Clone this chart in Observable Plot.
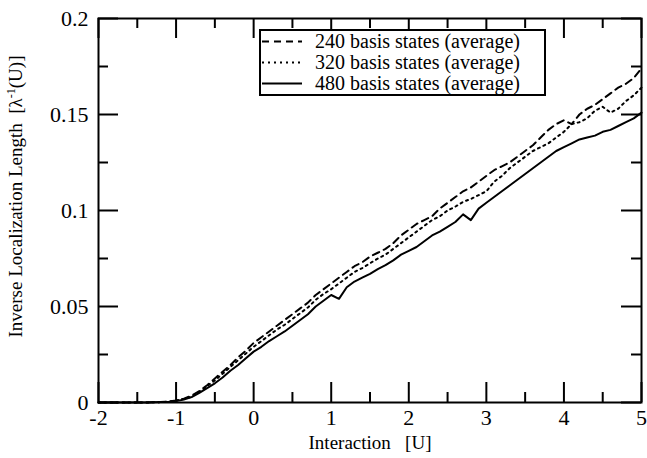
<!DOCTYPE html>
<html>
<head>
<meta charset="utf-8">
<script src="https://cdn.jsdelivr.net/npm/d3@7"></script>
<script src="https://cdn.jsdelivr.net/npm/@observablehq/plot@0.6"></script>
<style>
  html, body { margin: 0; padding: 0; background: #fff; }
  #wrap { position: relative; width: 647px; height: 458px; }
  #legend {
    position: absolute; left: 259px; top: 29px; width: 287px; height: 67px;
    box-sizing: border-box; border: 2px solid #000; background: #fff; overflow: hidden;
    font-family: "Liberation Serif", "Times New Roman", serif; font-size: 20px; color: #000;
  }
  .row { position: absolute; left: 0; width: 280px; height: 21px; white-space: nowrap; }
  .row svg { position: absolute; left: 1px; top: 0; }
  .row span { position: absolute; left: 54px; top: 0px; line-height: 21px; }
</style>
</head>
<body>
<div id="wrap">
  <div id="chart"></div>
  <div id="legend"></div>
</div>
<script>
// Interaction U (x values)
const U = [-2.0,-1.9,-1.8,-1.7,-1.6,-1.5,-1.4,-1.3,-1.2,
  -1.1,-1.0,-0.9,-0.8,-0.7,-0.6,-0.5,-0.4,-0.3,-0.2,-0.1,
  0.0,0.1,0.2,0.3,0.4,0.5,0.6,0.7,0.8,0.9,
  1.0,1.1,1.2,1.3,1.4,1.5,1.6,1.7,1.8,1.9,
  2.0,2.1,2.2,2.3,2.4,2.5,2.6,2.7,2.8,2.9,
  3.0,3.1,3.2,3.3,3.4,3.5,3.6,3.7,3.8,3.9,
  4.0,4.1,4.2,4.3,4.4,4.5,4.6,4.7,4.8,4.9,
  5.0];

// 240 basis states (average)
const avg240 = [0,0,0,0,0,0,0,0.0001,0.0002,
  0.0005,0.001,0.002,0.0035,0.006,0.009,0.0125,0.016,0.0195,0.0235,0.027,
  0.031,0.034,0.037,0.040,0.043,0.046,0.049,0.052,0.056,0.059,
  0.062,0.065,0.068,0.071,0.073,0.076,0.078,0.080,0.083,0.087,
  0.090,0.093,0.095,0.097,0.101,0.104,0.107,0.110,0.112,0.115,
  0.118,0.121,0.123,0.125,0.128,0.131,0.134,0.138,0.142,0.145,
  0.147,0.145,0.150,0.153,0.155,0.158,0.161,0.164,0.166,0.169,
  0.174];

// 320 basis states (average)
const avg320 = [0,0,0,0,0,0,0,0.0001,0.0002,
  0.0004,0.001,0.0018,0.003,0.0055,0.0085,0.0115,0.015,0.0185,0.022,0.0255,
  0.029,0.032,0.035,0.038,0.0405,0.0435,0.0465,0.0495,0.0535,0.0565,
  0.059,0.062,0.065,0.068,0.070,0.0725,0.075,0.077,0.080,0.083,
  0.086,0.089,0.092,0.095,0.097,0.100,0.102,0.1045,0.106,0.108,
  0.110,0.115,0.118,0.122,0.125,0.128,0.131,0.133,0.135,0.138,
  0.141,0.145,0.146,0.148,0.152,0.154,0.151,0.153,0.157,0.160,
  0.164];

// 480 basis states (average)
const avg480 = [0,0,0,0,0,0,0,0.0001,0.0002,
  0.0003,0.0008,0.0015,0.0028,0.005,0.0075,0.010,0.013,0.0165,0.0195,0.023,
  0.0265,0.029,0.032,0.0345,0.037,0.040,0.043,0.046,0.050,0.053,
  0.056,0.054,0.060,0.063,0.065,0.067,0.0695,0.0715,0.074,0.077,
  0.079,0.081,0.084,0.087,0.089,0.0915,0.094,0.098,0.095,0.101,
  0.104,0.107,0.110,0.113,0.116,0.119,0.122,0.125,0.128,0.131,
  0.133,0.135,0.137,0.138,0.139,0.141,0.142,0.144,0.146,0.148,
  0.151];

const seriesNames = ["240 basis states (average)", "320 basis states (average)", "480 basis states (average)"];
const seriesDash = ["7,5", "2,4", null];

const xMajor = [-2, -1, 0, 1, 2, 3, 4, 5];
const xMinor = [-1.5, -0.5, 0.5, 1.5, 2.5, 3.5, 4.5];
const yMajor = [0, 0.05, 0.1, 0.15, 0.2];
const yMinor = [0.025, 0.075, 0.125, 0.175];
const xTitle = "Interaction   [U]";
const yTitleParts = ["Inverse Localization Length  [λ", "-1", "(U)]"];

const seriesValues = [avg240, avg320, avg480];
const table = seriesNames.map((name, i) => U.map((u, j) => ({u, v: seriesValues[i][j], name})));

const W = 647, H = 458, mL = 98, mR = 6, mT = 18, mB = 56;
const pw = W - mL - mR, ph = H - mT - mB;
const font = "'Liberation Serif', 'Times New Roman', serif";

const chart = Plot.plot({
  width: W, height: H,
  marginLeft: mL, marginRight: mR, marginTop: mT, marginBottom: mB,
  style: {fontFamily: font, fontSize: "22px", color: "#000", background: "#fff"},
  x: {domain: [-2, 5]},
  y: {domain: [0, 0.2]},
  marks: [
    ...table.map((d, i) => Plot.line(d, {x: "u", y: "v", stroke: "#000", strokeWidth: 2, strokeDasharray: seriesDash[i]})),
    // inward ticks on all four sides
    Plot.tickX(xMajor, {x: d => d, insetTop: ph - 20, strokeWidth: 2}),
    Plot.tickX(xMajor, {x: d => d, insetBottom: ph - 20, strokeWidth: 2}),
    Plot.tickX(xMinor, {x: d => d, insetTop: ph - 10, strokeWidth: 2}),
    Plot.tickX(xMinor, {x: d => d, insetBottom: ph - 10, strokeWidth: 2}),
    Plot.tickY(yMajor, {y: d => d, insetRight: pw - 20, strokeWidth: 2}),
    Plot.tickY(yMajor, {y: d => d, insetLeft: pw - 20, strokeWidth: 2}),
    Plot.tickY(yMinor, {y: d => d, insetRight: pw - 10, strokeWidth: 2}),
    Plot.tickY(yMinor, {y: d => d, insetLeft: pw - 10, strokeWidth: 2}),
    Plot.axisX({ticks: xMajor, tickSize: 0, tickPadding: 7, tickFormat: d => String(d),
      label: xTitle, labelAnchor: "center", labelOffset: 46, labelArrow: "none", fontSize: 22}),
    Plot.axisY({ticks: yMajor, tickSize: 0, tickPadding: 10, tickFormat: d => String(d),
      label: yTitleParts.join(""), labelAnchor: "center", labelOffset: 90, labelArrow: "none", fontSize: 22}),
    Plot.frame({stroke: "#000", strokeWidth: 2})
  ]
});
document.getElementById("chart").appendChild(chart);

// axis titles: smaller size; superscript in the y title
const xlg = chart.querySelector('[aria-label="x-axis label"]');
const xl = xlg && xlg.querySelector("text");
if (xl) { xlg.setAttribute("font-size", "19"); xl.setAttribute("font-size", "19"); }
const ylg = chart.querySelector('[aria-label="y-axis label"]');
const yl = ylg && ylg.querySelector("text");
if (yl) {
  ylg.setAttribute("font-size", "19");
  yl.setAttribute("font-size", "19");
  yl.setAttribute("dx", "14");
  yl.textContent = "";
  const ns = "http://www.w3.org/2000/svg";
  yTitleParts.forEach((t, k) => {
    const ts = document.createElementNS(ns, "tspan");
    ts.textContent = t;
    if (k === 1) { ts.setAttribute("font-size", "12"); ts.setAttribute("dy", "-7"); }
    if (k === 2) { ts.setAttribute("dy", "7"); }
    yl.appendChild(ts);
  });
}

// legend
const legend = document.getElementById("legend");
seriesNames.forEach((name, i) => {
  const row = document.createElement("div");
  row.className = "row";
  row.style.top = (i * 21) + "px";
  const dash = seriesDash[i] ? `stroke-dasharray="${seriesDash[i]}"` : "";
  row.innerHTML = `<svg width="42" height="21"><line x1="0" x2="40" y1="10.5" y2="10.5" stroke="#000" stroke-width="2" ${dash}/></svg><span>${name}</span>`;
  legend.appendChild(row);
});
</script>
</body>
</html>
